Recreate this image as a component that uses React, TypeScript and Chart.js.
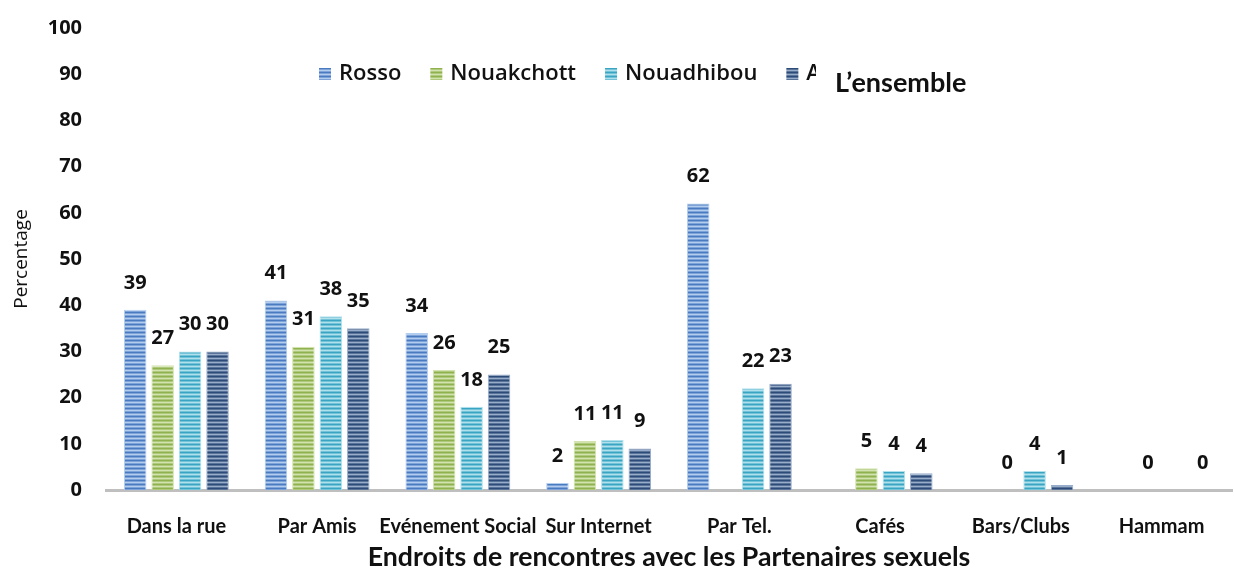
import React, { useEffect, useRef } from "react";
import { Chart, registerables } from "chart.js";

Chart.register(...registerables);

const categories = [
  "Dans la rue",
  "Par Amis",
  "Evénement Social",
  "Sur Internet",
  "Par Tel.",
  "Cafés",
  "Bars/Clubs",
  "Hammam",
];
const seriesNames = ["Rosso", "Nouakchott", "Nouadhibou", "All"];
const rossoValues = [39, 41, 34, 1.5, 62, null, null, null];
const nouakchottValues = [27, 31, 26, 10.6, null, 4.7, 0, 0];
const nouadhibouValues = [30, 37.6, 18, 10.8, 22, 4.1, 4.1, null];
const ensembleValues = [30, 35, 25, 9, 23, 3.6, 1.1, 0];
const yTickMin = 0;
const yTickMax = 100;
const yTickStep = 10;
const overlayLegendText = "L\u2019ensemble";
const yAxisTitle = "Percentage";
const xAxisTitle = "Endroits de rencontres avec les Partenaires sexuels";

// stripe colours per series: [dark, mid, light]
const stripeColors = [
  ["#4a7bc0", "#7ea3d8", "#b3cdee"],
  ["#8fb24e", "#afc97c", "#d3e3b0"],
  ["#3aa5c2", "#72c2d8", "#b0e0ec"],
  ["#2c4b78", "#5a7399", "#98adca"],
];

function makePattern(colors: string[]): CanvasPattern | string {
  const c = document.createElement("canvas");
  c.width = 4;
  c.height = 4;
  const g = c.getContext("2d");
  if (!g) return colors[0];
  const rows = [colors[0], colors[1], colors[2], colors[1]];
  rows.forEach((col, i) => {
    g.fillStyle = col;
    g.fillRect(0, i, 4, 1);
  });
  const p = g.createPattern(c, "repeat");
  return p || colors[0];
}

const valueLabelPlugin = {
  id: "valueLabels",
  afterDatasetsDraw(chart: any) {
    const ctx = chart.ctx;
    ctx.save();
    ctx.font = "bold 20px 'Open Sans'";
    ctx.fillStyle = "#111";
    ctx.textAlign = "center";
    ctx.textBaseline = "middle";
    chart.data.datasets.forEach((ds: any, di: number) => {
      const meta = chart.getDatasetMeta(di);
      meta.data.forEach((el: any, i: number) => {
        const v = ds.data[i];
        if (v === null || v === undefined) return;
        ctx.fillText(String(Math.round(v)), el.x, el.y - 27);
      });
    });
    ctx.restore();
  },
};

const legendPlugin = {
  id: "customLegend",
  afterDraw(chart: any) {
    const ctx = chart.ctx;
    ctx.save();
    const cy = 74;
    let x = 319;
    ctx.font = "600 22px 'Open Sans'";
    ctx.textBaseline = "middle";
    ctx.textAlign = "left";
    chart.data.datasets.forEach((ds: any) => {
      ctx.fillStyle = ds.backgroundColor;
      ctx.fillRect(x, cy - 6, 12, 12);
      const tx = x + 20;
      ctx.fillStyle = "#111";
      ctx.fillText(ds.label, tx, cy);
      x = tx + ctx.measureText(ds.label).width + 29;
    });
    // overlay box with text
    ctx.fillStyle = "#ffffff";
    ctx.fillRect(816, 58, 175, 42);
    ctx.fillStyle = "#111";
    ctx.font = "bold 27px Lato";
    ctx.fillText(overlayLegendText, 835, 83);
    ctx.restore();
  },
};

export default function App() {
  const ref = useRef<HTMLCanvasElement | null>(null);

  useEffect(() => {
    document.body.style.margin = "0";
    const canvas = ref.current;
    if (!canvas) return;
    const seriesValues = [rossoValues, nouakchottValues, nouadhibouValues, ensembleValues];
    const datasets = seriesNames.map((name, i) => ({
      label: name,
      data: seriesValues[i],
      backgroundColor: makePattern(stripeColors[i]),
      borderColor: stripeColors[i][2],
      borderWidth: 1,
      categoryPercentage: 0.78,
      barPercentage: 0.82,
    }));
    const chart = new Chart(canvas, {
      type: "bar",
      data: { labels: categories, datasets: datasets as any },
      options: {
        responsive: false,
        animation: false,
        layout: { padding: { top: 2, right: 2, left: 0, bottom: 0 } },
        plugins: {
          legend: { display: false },
          tooltip: { enabled: false },
        },
        scales: {
          x: {
            grid: { display: false },
            border: { display: true, color: "#bfbfbf", width: 3 },
            ticks: {
              color: "#111",
              font: { family: "Lato", weight: "bold", size: 20 },
              padding: 17,
              maxRotation: 0,
              autoSkip: false,
            },
            title: {
              display: true,
              text: xAxisTitle,
              color: "#111",
              font: { family: "Lato", weight: "bold", size: 26.7, lineHeight: 0.85 },
              padding: { top: 0, bottom: 0 },
            },
            afterFit: (s: any) => {
              s.height = 79;
            },
          },
          y: {
            min: yTickMin,
            max: yTickMax,
            grid: { display: false },
            border: { display: false },
            ticks: {
              stepSize: yTickStep,
              color: "#111",
              font: { family: "Open Sans", weight: "bold", size: 20 },
              padding: 16,
            },
            title: {
              display: true,
              text: yAxisTitle,
              color: "#111",
              font: { family: "Open Sans", size: 19 },
              padding: { top: 10, bottom: 0 },
            },
            afterFit: (s: any) => {
              s.width = 106;
            },
          },
        },
      },
      plugins: [valueLabelPlugin, legendPlugin],
    });
    return () => chart.destroy();
  }, []);

  return (
    <div style={{ width: 1234, height: 569, background: "#fff" }}>
      <canvas ref={ref} width={1234} height={569} />
    </div>
  );
}
